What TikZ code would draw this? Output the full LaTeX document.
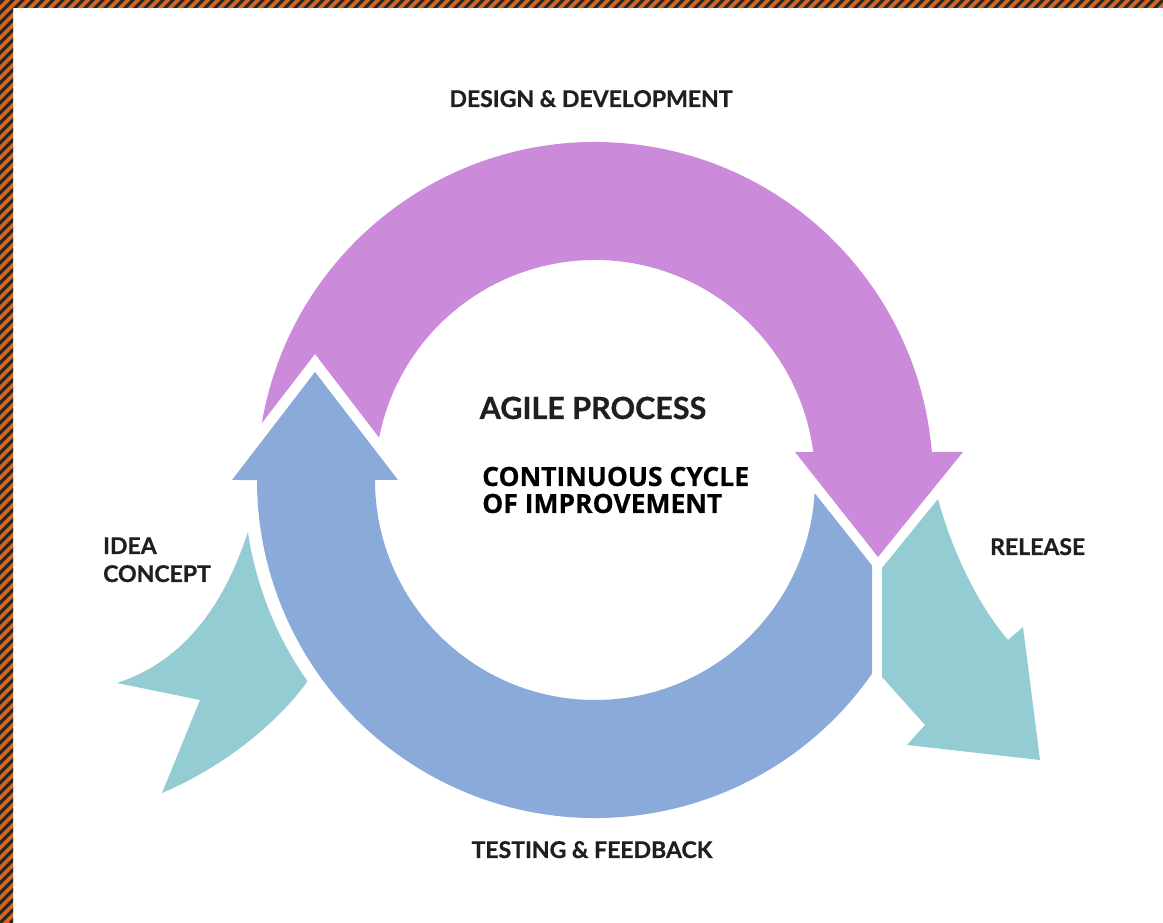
\documentclass[tikz,border=0pt]{standalone}
\usepackage{fontspec}
\setmainfont{Lato}[BoldFeatures={FakeBold=0.8}]
\newfontfamily\cyclefont{Open Sans}[BoldFeatures={FakeBold=0.4}]
\usetikzlibrary{calc}
\definecolor{designpurple}{HTML}{CC8BDA}
\definecolor{testblue}{HTML}{8AAAD9}
\definecolor{flowteal}{HTML}{94CCD4}
\definecolor{hazard}{HTML}{D9651A}
\tikzset{
  stagelabel/.style={font=\bfseries\fontsize{23}{28}\selectfont, text=black!88, inner sep=0pt},
  titlelabel/.style={font=\bfseries\fontsize{30.5}{32}\selectfont, text=black!88, inner sep=0pt},
  cyclelabel/.style={font=\cyclefont\bfseries\fontsize{26.5}{27}\selectfont, inner sep=0pt, align=left}
}
\begin{document}
\begin{tikzpicture}[x=1pt,y=1pt]
  \useasboundingbox (0,0) rectangle (1163,923);
  \fill[white] (0,0) rectangle (1163,923);
  \begin{scope}
    \clip (0,0) rectangle (13,923) (0,915) rectangle (1163,923);
    \fill[hazard] (0,0) rectangle (1163,923);
    \foreach \i in {-930,-920,...,1170}
      \draw[black!85, line width=3] (\i,0) -- ++(930,930);
  \end{scope}
  \coordinate (c) at (595,443);
  \fill[designpurple] ($(c)+(170.3:338)$) arc[start angle=170.3, end angle=4.75, radius=338]
    -- (963,471) -- (878,366) -- (795,471)
    -- ($(c)+(7.3:220)$) arc[start angle=7.3, end angle=168.9, radius=220]
    -- (315,569) -- cycle;
  \fill[testblue] ($(c)+(-3.4:220)$) -- (872,357.5) -- (872,249.3)
    arc[start angle=-34.96, end angle=-180, radius=338]
    -- (232,443) -- (315,551) -- (398,443) -- (375,443)
    arc[start angle=180, end angle=356.6, radius=220] -- cycle;
  \fill[flowteal] (882,355) -- (938,424) .. controls (952,372) and (978,318) .. (1008,283)
    -- (1023,296) -- (1040,163) -- (907,178) -- (925,198) -- (882,246) -- cycle;
  \fill[flowteal] ($(c)+(188.5:351)$) arc[start angle=188.5, end angle=215, radius=351]
    .. controls (270,190) and (210,150) .. (162,130) -- (200,223) -- (117,240)
    .. controls (185,262) and (225,320) .. cycle;
  \draw
    (591,816) node[stagelabel, anchor=base] (design){DESIGN \& DEVELOPMENT}
    (592,65) node[stagelabel, anchor=base] (testing){TESTING \& FEEDBACK}
    (990,368) node[stagelabel, anchor=base west] (release){RELEASE}
    (103,341) node[stagelabel, anchor=base west, align=left] (idea){IDEA\\CONCEPT}
    (593,504) node[titlelabel, anchor=base] (agile){AGILE PROCESS}
    (482,410) node[cyclelabel, anchor=base west] (cycle){CONTINUOUS CYCLE\\OF IMPROVEMENT};
\end{tikzpicture}
\end{document}
